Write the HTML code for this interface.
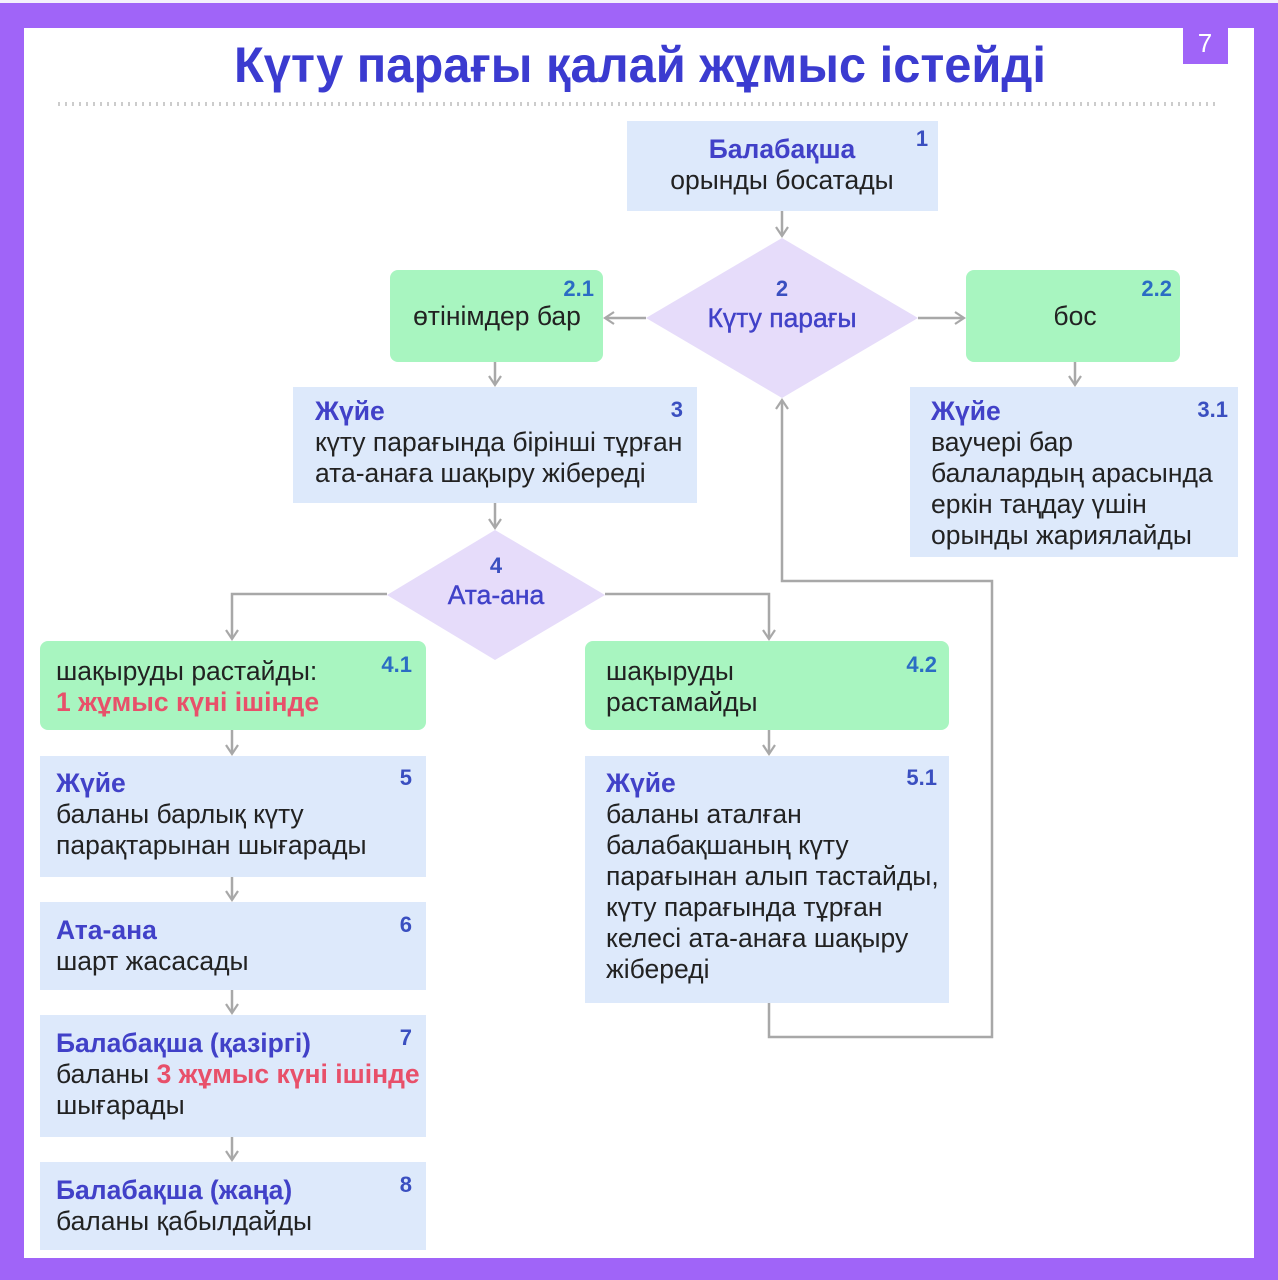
<!DOCTYPE html>
<html><head><meta charset="utf-8"><style>
html,body{margin:0;padding:0;background:#fff}
svg{display:block}
text{font-family:"Liberation Sans","DejaVu Sans",sans-serif}
.t{font-size:26.5px;fill:#222}
.b{font-size:26.5px;fill:#4141c8;font-weight:bold}
.r{font-size:26.5px;fill:#e8506a;font-weight:bold}
.n{font-size:22px;fill:#3a4fc0;font-weight:bold}
.n2{font-size:22px;fill:#2b6cc4;font-weight:bold}
.ln{stroke:#a8a8a8;stroke-width:2.5;fill:none}
</style></head><body>
<svg width="1278" height="1280" viewBox="0 0 1278 1280" xmlns="http://www.w3.org/2000/svg">
<defs><marker id="a" markerWidth="16" markerHeight="16" refX="12" refY="8" orient="auto" markerUnits="userSpaceOnUse"><path d="M3,2 L12,8 L3,14" fill="none" stroke="#a8a8a8" stroke-width="2.2"/></marker></defs>
<rect width="1278" height="1280" fill="#a064f8"/>
<rect x="0" y="0" width="1278" height="3" fill="#f4f0fc"/>
<rect x="24" y="28" width="1230" height="1230" fill="#fff"/>
<rect x="1183" y="28" width="45" height="36" fill="#a064f8"/>
<text x="1205" y="52" font-size="26" fill="#fff" text-anchor="middle">7</text>
<text x="640" y="82" font-size="50" font-weight="bold" fill="#3b3bd0" text-anchor="middle" textLength="812" lengthAdjust="spacingAndGlyphs">Күту парағы қалай жұмыс істейді</text>
<line x1="58" y1="104" x2="1220" y2="104" stroke="#ccc" stroke-width="4" stroke-dasharray="2,5"/>

<line class="ln" x1="782" y1="211" x2="782" y2="236" marker-end="url(#a)"/>
<line class="ln" x1="646" y1="318" x2="605" y2="318" marker-end="url(#a)"/>
<line class="ln" x1="918" y1="318" x2="964" y2="318" marker-end="url(#a)"/>
<line class="ln" x1="495" y1="362" x2="495" y2="385" marker-end="url(#a)"/>
<line class="ln" x1="1075" y1="362" x2="1075" y2="385" marker-end="url(#a)"/>
<line class="ln" x1="495" y1="503" x2="495" y2="528" marker-end="url(#a)"/>
<polyline class="ln" points="387,594 232,594 232,639" marker-end="url(#a)"/>
<polyline class="ln" points="605,594 769,594 769,639" marker-end="url(#a)"/>
<line class="ln" x1="232" y1="730" x2="232" y2="754" marker-end="url(#a)"/>
<line class="ln" x1="769" y1="730" x2="769" y2="754" marker-end="url(#a)"/>
<line class="ln" x1="232" y1="877" x2="232" y2="900" marker-end="url(#a)"/>
<line class="ln" x1="232" y1="990" x2="232" y2="1013" marker-end="url(#a)"/>
<line class="ln" x1="232" y1="1137" x2="232" y2="1160" marker-end="url(#a)"/>
<polyline class="ln" points="769,1003 769,1037 992,1037 992,581 782,581 782,400" marker-end="url(#a)"/>

<rect x="627" y="121" width="311" height="90" fill="#dde9fb"/>
<text class="b" x="782" y="158" text-anchor="middle">Балабақша</text>
<text class="t" x="782" y="189" text-anchor="middle">орынды босатады</text>
<text class="n" x="922" y="146" text-anchor="middle">1</text>

<polygon points="782,238 918,318 782,398 646,318" fill="#e6dcfa"/>
<text class="n" x="782" y="296" text-anchor="middle">2</text>
<text class="b" x="782" y="327" text-anchor="middle" style="font-weight:normal;stroke:#4141c8;stroke-width:0.4">Күту парағы</text>

<rect x="390" y="270" width="213" height="92" rx="8" fill="#a8f5c0"/>
<text class="n2" x="594" y="296" text-anchor="end">2.1</text>
<text class="t" x="497" y="325" text-anchor="middle">өтінімдер бар</text>

<rect x="966" y="270" width="214" height="92" rx="8" fill="#a8f5c0"/>
<text class="n2" x="1172" y="296" text-anchor="end">2.2</text>
<text class="t" x="1075" y="325" text-anchor="middle">бос</text>

<rect x="293" y="387" width="404" height="116" fill="#dde9fb"/>
<text class="b" x="315" y="420">Жүйе</text>
<text class="n" x="683" y="417" text-anchor="end">3</text>
<text class="t" x="315" y="451">күту парағында бірінші тұрған</text>
<text class="t" x="315" y="482">ата-анаға шақыру жібереді</text>

<rect x="910" y="387" width="328" height="170" fill="#dde9fb"/>
<text class="b" x="931" y="420">Жүйе</text>
<text class="n" x="1228" y="417" text-anchor="end">3.1</text>
<text class="t" x="931" y="451">ваучері бар</text>
<text class="t" x="931" y="482">балалардың арасында</text>
<text class="t" x="931" y="513">еркін таңдау үшін</text>
<text class="t" x="931" y="544">орынды жариялайды</text>

<polygon points="495,530 605,595 495,660 387,595" fill="#e6dcfa"/>
<text class="n" x="496" y="573" text-anchor="middle">4</text>
<text class="b" x="496" y="604" text-anchor="middle" style="font-weight:normal;stroke:#4141c8;stroke-width:0.4">Ата-ана</text>

<rect x="40" y="641" width="386" height="89" rx="8" fill="#a8f5c0"/>
<text class="t" x="56" y="680">шақыруды растайды:</text>
<text class="r" x="56" y="711">1 жұмыс күні ішінде</text>
<text class="n2" x="412" y="672" text-anchor="end">4.1</text>

<rect x="585" y="641" width="364" height="89" rx="8" fill="#a8f5c0"/>
<text class="t" x="606" y="680">шақыруды</text>
<text class="t" x="606" y="711">растамайды</text>
<text class="n2" x="937" y="672" text-anchor="end">4.2</text>

<rect x="40" y="756" width="386" height="121" fill="#dde9fb"/>
<text class="b" x="56" y="792">Жүйе</text>
<text class="n" x="412" y="785" text-anchor="end">5</text>
<text class="t" x="56" y="823">баланы барлық күту</text>
<text class="t" x="56" y="854">парақтарынан шығарады</text>

<rect x="585" y="756" width="364" height="247" fill="#dde9fb"/>
<text class="b" x="606" y="792">Жүйе</text>
<text class="n" x="937" y="785" text-anchor="end">5.1</text>
<text class="t" x="606" y="823">баланы аталған</text>
<text class="t" x="606" y="854">балабақшаның күту</text>
<text class="t" x="606" y="885">парағынан алып тастайды,</text>
<text class="t" x="606" y="916">күту парағында тұрған</text>
<text class="t" x="606" y="947">келесі ата-анаға шақыру</text>
<text class="t" x="606" y="978">жібереді</text>

<rect x="40" y="902" width="386" height="88" fill="#dde9fb"/>
<text class="b" x="56" y="939">Ата-ана</text>
<text class="n" x="412" y="932" text-anchor="end">6</text>
<text class="t" x="56" y="970">шарт жасасады</text>

<rect x="40" y="1015" width="386" height="122" fill="#dde9fb"/>
<text class="b" x="56" y="1052">Балабақша (қазіргі)</text>
<text class="n" x="412" y="1045" text-anchor="end">7</text>
<text class="t" x="56" y="1083">баланы <tspan class="r">3 жұмыс күні ішінде</tspan></text>
<text class="t" x="56" y="1114">шығарады</text>

<rect x="40" y="1162" width="386" height="88" fill="#dde9fb"/>
<text class="b" x="56" y="1199">Балабақша (жаңа)</text>
<text class="n" x="412" y="1192" text-anchor="end">8</text>
<text class="t" x="56" y="1230">баланы қабылдайды</text>
</svg>
</body></html>
